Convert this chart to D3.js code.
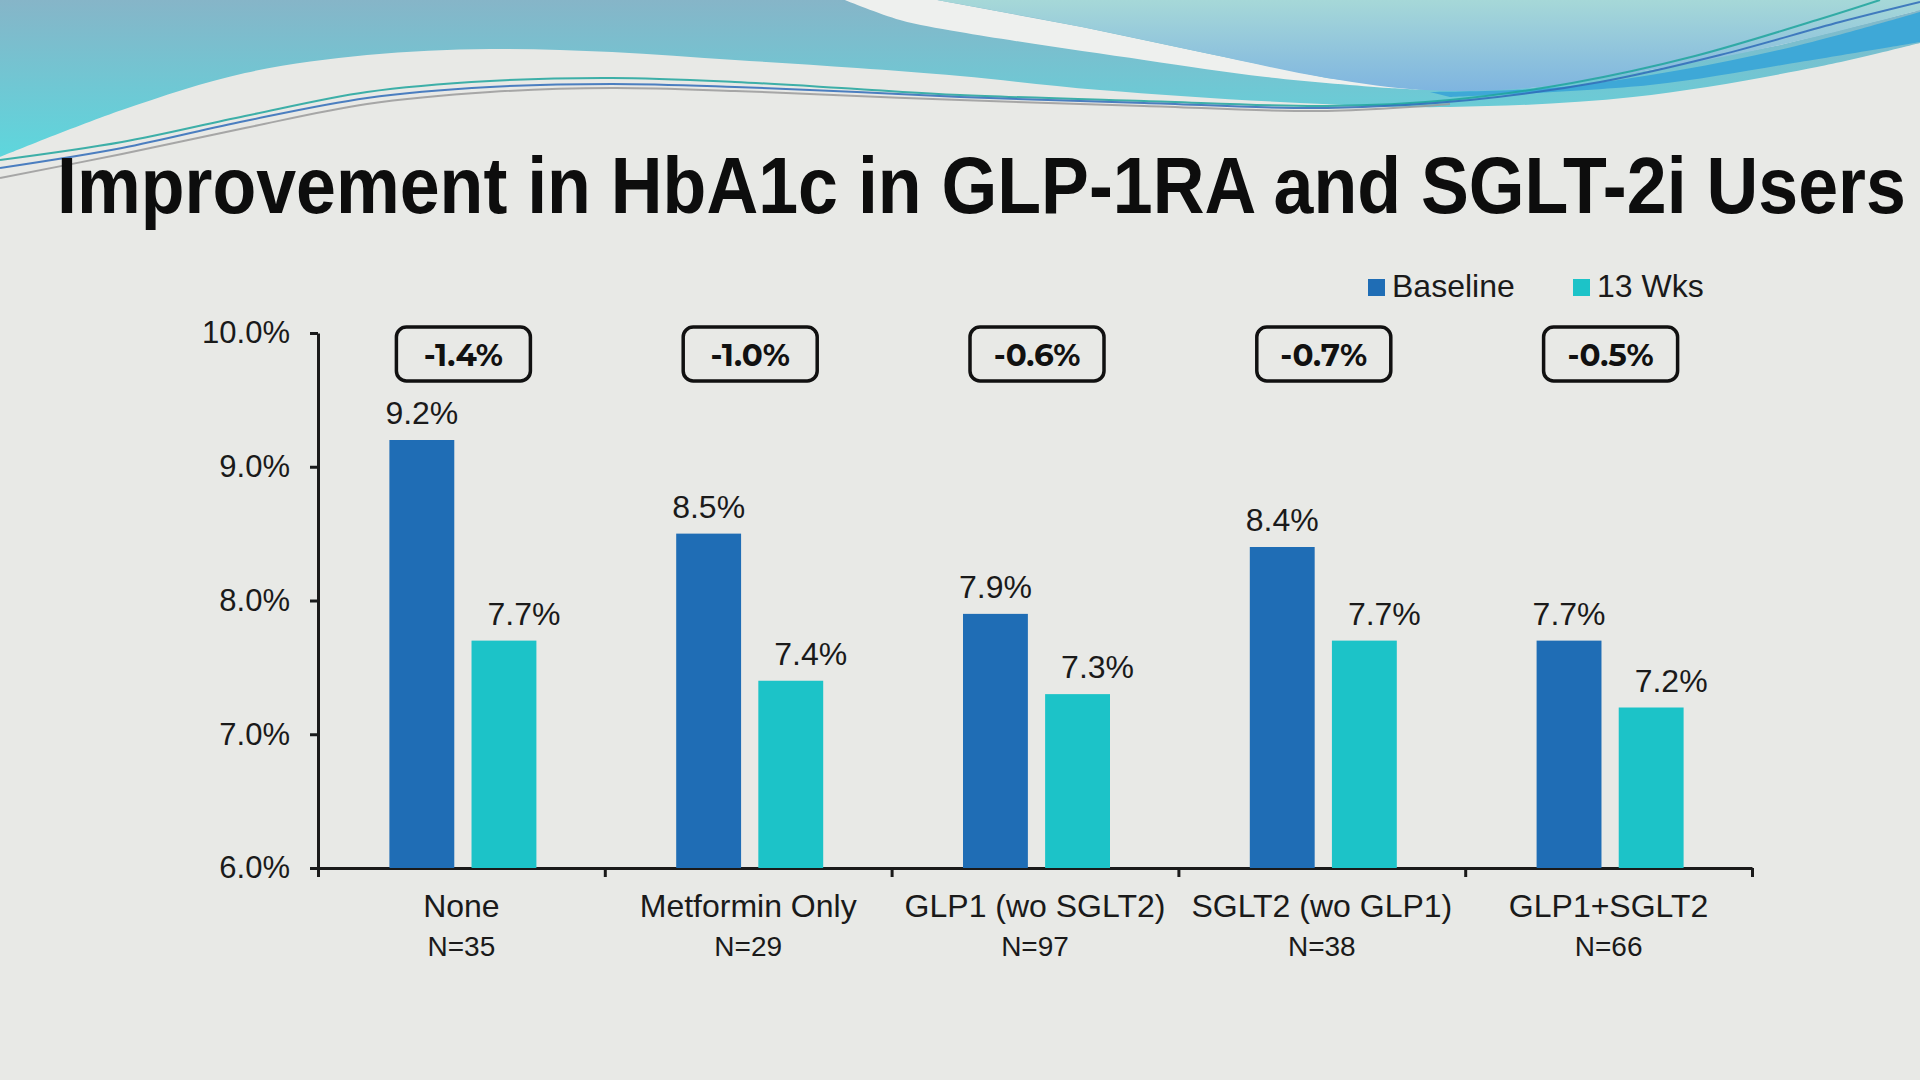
<!DOCTYPE html>
<html>
<head>
<meta charset="utf-8">
<script src="https://cdn.jsdelivr.net/npm/d3@7"></script>
<style>
  body { margin: 0; background: #e8e9e6; }
  svg { display: block; }
</style>
</head>
<body>
<svg id="chart" width="1920" height="1080"></svg>
<script>
// data
const categories = ["None", "Metformin Only", "GLP1 (wo SGLT2)", "SGLT2 (wo GLP1)", "GLP1+SGLT2"];
const sampleSizes = ["N=35", "N=29", "N=97", "N=38", "N=66"];
const series = ["Baseline", "13 Wks"];
const baseline = [9.2, 8.5, 7.9, 8.4, 7.7];
const week13 = [7.7, 7.4, 7.3, 7.7, 7.2];
const changes = ["-1.4%", "-1.0%", "-0.6%", "-0.7%", "-0.5%"];
const yTicks = [6, 7, 8, 9, 10];

const colors = { "Baseline": "#1f6db5", "13 Wks": "#1cc3c8" };

// decorative header curves (slide background, not data)
const tealEdge = [[0,157],[122,110],[245,73],[367,55],[490,49],[612,52],[735,60],[857,68],[960,76],[1100,90],[1300,103],[1450,107],[1633,97],[1817,67],[1920,43]];
const blueEdge = [[937,0],[1082,27],[1205,53],[1327,78],[1425,90],[1530,88],[1650,70],[1780,45],[1920,10]];
const whiteEdge = [[845,0],[900,20],[960,32],[1144,60],[1266,77],[1389,88],[1425,90]];
const stripeTop = [[1430,92],[1550,88],[1680,70],[1800,45],[1920,12]];
const stripeBottom = [[1920,42],[1800,62],[1650,85],[1450,97]];
const thinLines = [
  { color: "#1ea59c", pts: [[0,160],[122,142],[245,116],[367,92],[490,81],[612,78],[735,82],[857,89],[960,95],[1144,101],[1327,106],[1450,100],[1572,83],[1695,56],[1817,20],[1880,0]] },
  { color: "#2f6bb8", pts: [[0,168],[122,148],[245,121],[367,98],[490,87],[612,84],[735,87],[857,92],[960,97],[1144,103],[1327,108],[1470,100],[1600,82],[1720,55],[1840,22],[1920,2]] },
  { color: "#9a9a9a", pts: [[0,178],[122,154],[245,128],[367,104],[490,92],[612,88],[735,91],[857,96],[960,100],[1144,106],[1327,111],[1450,104]] }
];

const svg = d3.select("#chart");
const defs = svg.append("defs");

function vGrad(id, y1, y2, c1, c2) {
  const g = defs.append("linearGradient").attr("id", id)
    .attr("gradientUnits", "userSpaceOnUse")
    .attr("x1", 0).attr("y1", y1).attr("x2", 0).attr("y2", y2);
  g.append("stop").attr("offset", 0).attr("stop-color", c1);
  g.append("stop").attr("offset", 1).attr("stop-color", c2);
}
vGrad("tealGrad", 0, 150, "#86b5c8", "#5fd5dc");
vGrad("blueGrad", 0, 95, "#a6d8d8", "#7db3e0");

svg.append("rect").attr("width", 1920).attr("height", 1080).attr("fill", "#e8e9e6");

const curve = d3.line().curve(d3.curveCatmullRom);
const deco = svg.append("g");

deco.append("path")
  .attr("d", curve(tealEdge) + "L1920,0L0,0Z")
  .attr("fill", "url(#tealGrad)");
deco.append("path")
  .attr("d", curve(whiteEdge) + "L" + blueEdge.slice().reverse().map(p => p.join(",")).join("L") + "Z")
  .attr("fill", "#eef0ee");
deco.append("path")
  .attr("d", curve(blueEdge) + "L1920,0Z")
  .attr("fill", "url(#blueGrad)");
deco.append("path")
  .attr("d", curve(stripeTop) + "L" + curve(stripeBottom).slice(1) + "Z")
  .attr("fill", "#3ea8d7");
thinLines.forEach(l => {
  deco.append("path")
    .attr("d", curve(l.pts))
    .attr("fill", "none")
    .attr("stroke", l.color)
    .attr("stroke-width", 2)
    .attr("opacity", 0.85);
});

// title, squeezed horizontally to the slide's width
const titleLeft = 57, titleWidth = 1849;
const title = svg.append("text")
  .attr("x", 0).attr("y", 0)
  .style("font-family", "'Liberation Sans', Arial, sans-serif")
  .style("font-weight", 700)
  .style("font-size", "79px")
  .attr("fill", "#0d0d0d")
  .text("Improvement in HbA1c in GLP-1RA and SGLT-2i Users");
const natural = title.node().getComputedTextLength();
const sx = Math.min(1, titleWidth / natural);
title.attr("transform", `translate(${titleLeft},213) scale(${sx},1)`);

// scales
const x = d3.scaleBand().domain(categories).range([318, 1752]).padding(0);
const x1 = d3.scaleBand().domain(series).range([-72, 75]).paddingInner(0.21);
const y = d3.scaleLinear().domain([6, 10]).range([868, 333]);
const cx = c => x(c) + x.bandwidth() / 2;

const txt = "'Liberation Sans', Arial, sans-serif";
const ink = "#1a1a1a";

// y axis
const yAxis = svg.append("g")
  .attr("transform", "translate(318,0)")
  .call(d3.axisLeft(y).tickValues(yTicks).tickFormat(d => d.toFixed(1) + "%").tickSize(8).tickSizeOuter(0).tickPadding(20));
yAxis.selectAll("text").style("font-family", txt).style("font-size", "31px").attr("fill", ink);

// x axis with ticks at category boundaries
const xb = d3.scaleLinear().domain([0, categories.length]).range(x.range());
svg.append("g")
  .attr("transform", "translate(0,868)")
  .call(d3.axisBottom(xb).ticks(categories.length).tickFormat("").tickSize(9).tickSizeOuter(0));

svg.selectAll(".domain, .tick line").attr("stroke", ink).attr("stroke-width", 3);

// bars
const rows = categories.map((c, i) => ({ cat: c, vals: [baseline[i], week13[i]] }));
const groups = svg.append("g").selectAll("g")
  .data(rows).join("g")
  .attr("transform", d => `translate(${cx(d.cat)},0)`);

groups.selectAll("rect")
  .data(d => series.map((s, j) => ({ s, v: d.vals[j] })))
  .join("rect")
  .attr("x", d => x1(d.s))
  .attr("width", x1.bandwidth())
  .attr("y", d => y(d.v))
  .attr("height", d => y(6) - y(d.v))
  .attr("fill", d => colors[d.s]);

groups.selectAll("text.val")
  .data(d => series.map((s, j) => ({ s, v: d.vals[j] })))
  .join("text")
  .attr("class", "val")
  .attr("x", d => x1(d.s) + x1.bandwidth() / 2 + (d.s === "13 Wks" ? 20 : 0))
  .attr("y", d => y(d.v) - 16)
  .attr("text-anchor", "middle")
  .style("font-family", txt)
  .style("font-size", "32px")
  .attr("fill", ink)
  .text(d => d.v.toFixed(1) + "%");

// change boxes
const boxes = svg.append("g").selectAll("g")
  .data(categories.map((c, i) => ({ cat: c, label: changes[i] })))
  .join("g")
  .attr("transform", d => `translate(${cx(d.cat) + 2},0)`);
boxes.append("rect")
  .attr("x", -67).attr("y", 327)
  .attr("width", 134).attr("height", 54)
  .attr("rx", 10)
  .attr("fill", "none")
  .attr("stroke", "#111")
  .attr("stroke-width", 3.5);
boxes.append("text")
  .attr("y", 366)
  .attr("text-anchor", "middle")
  .style("font-family", "Montserrat, Inter, 'Open Sans', sans-serif")
  .style("font-weight", 700)
  .style("font-size", "31px")
  .attr("fill", "#111")
  .text(d => d.label);

// category labels
const labels = svg.append("g").selectAll("g")
  .data(categories.map((c, i) => ({ cat: c, n: sampleSizes[i] })))
  .join("g")
  .attr("transform", d => `translate(${cx(d.cat)},0)`);
labels.append("text")
  .attr("y", 917)
  .attr("text-anchor", "middle")
  .style("font-family", txt).style("font-size", "32px")
  .attr("fill", ink)
  .text(d => d.cat);
labels.append("text")
  .attr("y", 956)
  .attr("text-anchor", "middle")
  .style("font-family", txt).style("font-size", "28px")
  .attr("fill", ink)
  .text(d => d.n);

// legend
const legendX = [1368, 1573];
const legend = svg.append("g").selectAll("g")
  .data(series).join("g")
  .attr("transform", (d, i) => `translate(${legendX[i]},279)`);
legend.append("rect")
  .attr("width", 17).attr("height", 17)
  .attr("fill", d => colors[d]);
legend.append("text")
  .attr("x", 24).attr("y", 18)
  .style("font-family", txt).style("font-size", "32px")
  .attr("fill", ink)
  .text(d => d);
</script>
</body>
</html>
